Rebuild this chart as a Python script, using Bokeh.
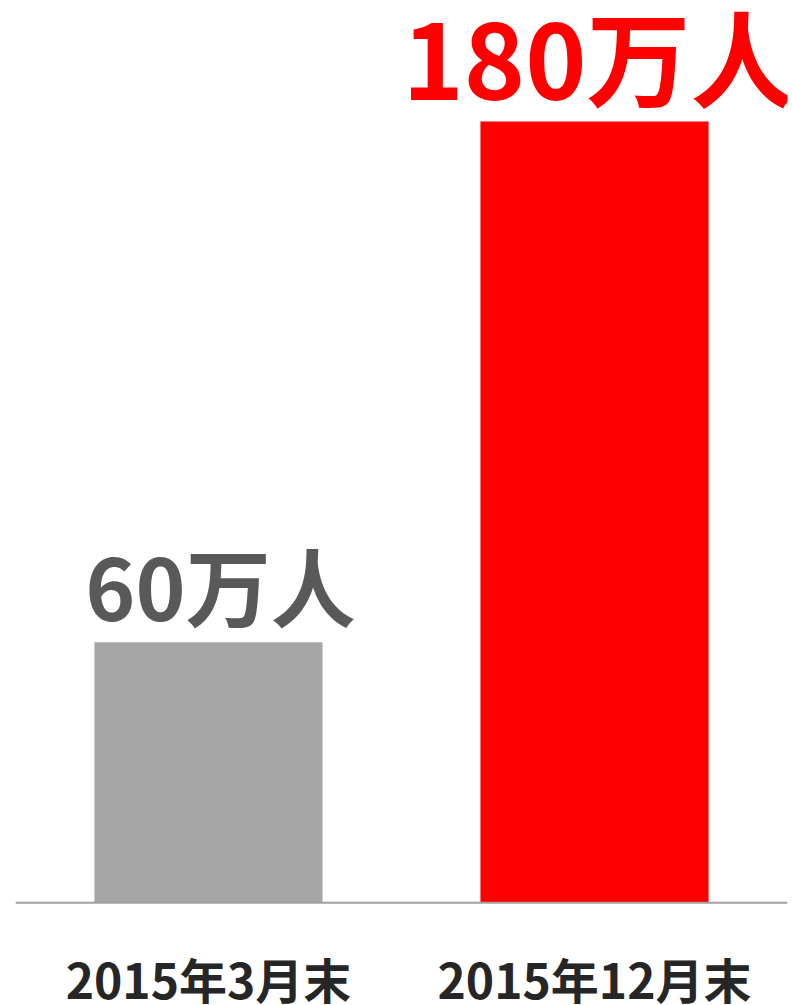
from bokeh.plotting import figure
from bokeh.models import ColumnDataSource, FactorRange, Range1d, Span
from bokeh.core.properties import value
from bokeh.embed import file_html
from bokeh.resources import INLINE

categories = ["2015年3月末", "2015年12月末"]
values = [60, 180]
value_labels = ["60万人", "180万人"]
bar_colors = ["#a6a6a6", "#ff0000"]
label_colors = ["#595959", "#ff0000"]
label_sizes = ["85px", "104px"]
label_offsets = [-59, -67]
label_xoffsets = [12, 4]

src = ColumnDataSource(dict(cat=categories, val=values, lab=value_labels,
                            bc=bar_colors, lc=label_colors, ls=label_sizes,
                            lo=label_offsets, lx=label_xoffsets, zero=[0, 0]))

# frame: x 15..787, y 0..1005 ; baseline at y=902
p = figure(width=792, height=1005, output_backend="svg", toolbar_location=None,
           x_range=FactorRange(*categories, range_padding=0, factor_padding=0),
           y_range=Range1d(-23.7, 207.9),
           min_border_left=15, min_border_right=5, min_border_top=0, min_border_bottom=0)
p.axis.visible = False
p.grid.visible = False
p.outline_line_color = None
p.background_fill_color = "white"

p.vbar(x="cat", top="val", width=0.591, fill_color="bc", line_color=None, source=src)
p.add_layout(Span(location=0, dimension="width", line_color="#a0a0a0", line_width=2))

font = value("Noto Sans CJK SC")
p.text(x="cat", y="val", text="lab", text_color="lc", text_font_size="ls",
       x_offset="lx", y_offset="lo", text_align="center", text_baseline="alphabetic",
       text_font=font, text_font_style="bold", source=src)
p.text(x="cat", y="zero", text="cat", text_color="#262626", text_font_size="48px",
       y_offset=75, text_align="center", text_baseline="alphabetic",
       text_font=font, text_font_style="bold", source=src)

open("out.html", "w").write(file_html(p, INLINE))
